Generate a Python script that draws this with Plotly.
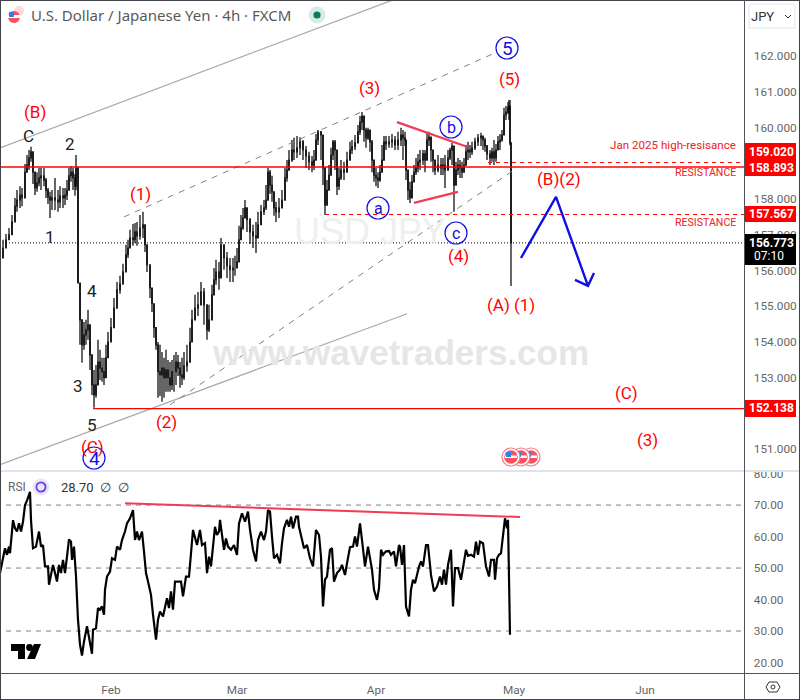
#USD/JPY 4h chart with wave counts and RSI panel
import plotly.graph_objs as go

W, H = 800, 700
PLOT_R = 744.5
TOP_B, RSI_T, RSI_B = 470, 472, 673

RED = "#ff0000"
BLUE = "#1010e6"
PINK = "#f23c55"
GREY = "#666666"

#Price bars, x is the bar position on the time scale
bar_x = [0,3,6,9,12,15,17,20,22,25,
         27,29,31,33,35,37,39,41,44,46,
         48,50,52,55,58,60,63,65,67,69,
         71,73,75,76,78,80,82,84,86,88,
         90,92,94,96,98,100,102,104,106,108,
         111,114,117,120,123,126,128,130,133,135,
         137,140,143,145,147,150,152,154,156,158,
         160,162,164,166,168,170,172,174,176,178,
         180,182,184,187,190,192,195,198,201,204,
         207,209,212,214,216,219,221,224,227,230,
         233,235,237,239,241,243,245,247,250,253,
         256,258,261,264,266,268,270,272,274,276,
         279,282,285,287,289,292,294,297,300,303,
         306,309,312,314,316,318,321,323,325,327,
         329,331,333,335,337,339,341,344,347,350,
         352,355,358,360,362,364,366,368,370,372,
         374,376,378,380,382,384,386,389,392,395,
         398,401,403,405,406,408,410,412,414,416,
         418,420,423,425,427,429,431,433,435,438,
         441,443,445,448,450,452,454,456,458,460,
         462,464,466,468,470,472,475,478,481,483,
         485,487,490,492,494,496,498,500,502,504,
         506,508,509,510,511]
price_close = [156.35,156.63,156.86,157.00,157.36,157.80,157.97,158.11,158.03,158.75,
               158.95,159.15,159.32,158.75,158.31,158.45,158.59,158.65,158.53,158.25,
               158.06,157.97,158.03,157.97,157.92,158.09,158.03,158.11,158.25,158.65,
               158.75,158.59,158.36,158.87,155.65,154.62,153.92,154.20,154.34,154.48,
               153.64,152.80,152.52,152.80,153.44,153.27,153.17,153.00,153.56,154.00,
               154.40,154.95,155.46,155.63,155.96,156.44,156.63,156.91,156.86,157.08,
               156.97,157.19,157.28,156.72,156.16,155.51,155.07,154.40,153.92,153.17,
               153.08,153.27,153.00,153.22,153.00,152.80,153.17,153.17,153.44,153.27,
               153.08,153.00,153.33,153.44,154.00,154.62,154.95,155.04,155.40,155.04,
               154.34,154.62,155.32,155.74,155.96,155.79,156.72,156.35,156.13,156.02,
               156.07,156.07,156.24,156.86,157.19,157.47,157.75,157.42,157.08,156.97,
               156.91,157.28,157.64,157.75,157.97,158.75,158.39,158.20,157.75,157.64,
               157.75,157.97,158.59,158.81,159.09,159.37,159.32,159.43,159.60,159.37,
               159.20,159.04,158.95,159.09,159.65,159.88,159.79,158.87,157.83,158.25,
               158.67,159.23,159.60,159.37,158.36,158.59,158.81,158.75,159.09,159.37,
               159.46,159.57,159.88,160.15,160.32,159.93,159.71,159.93,159.60,159.09,
               158.67,158.59,158.53,158.75,159.09,159.60,159.54,159.60,159.65,159.51,
               159.65,159.79,159.71,159.65,158.81,158.25,158.03,158.48,158.75,158.87,
               159.04,159.09,159.26,159.09,159.65,159.73,159.37,159.09,158.81,158.95,
               158.87,158.95,158.81,159.15,159.37,159.48,158.39,158.81,158.95,158.87,
               158.75,158.95,159.32,159.37,159.32,159.43,159.60,159.71,159.76,159.65,
               159.48,159.26,159.15,159.32,159.15,159.37,159.60,159.65,159.79,160.35,
               160.43,160.55,160.60,159.57,156.77]
price_high = [156.58,156.86,157.02,157.19,157.55,158.03,158.25,158.36,158.31,158.98,
              159.23,159.37,159.46,159.09,158.67,158.75,158.87,158.87,158.87,158.59,
              158.31,158.20,158.25,158.59,158.25,158.36,158.31,158.31,158.53,158.87,
              158.92,158.87,158.70,159.23,158.25,155.37,154.62,154.56,154.62,154.90,
              154.34,153.64,153.22,153.36,154.06,153.78,153.56,153.56,153.92,154.28,
              154.67,155.23,155.68,155.85,156.19,156.72,156.86,157.14,157.30,157.33,
              157.36,157.55,157.64,157.19,156.52,155.96,155.40,154.79,154.34,154.00,
              153.92,153.72,153.56,153.78,153.50,153.44,153.50,153.64,153.72,153.64,
              153.44,153.56,153.72,153.92,154.40,154.90,155.32,155.40,155.68,155.51,
              155.04,155.04,155.60,156.07,156.30,156.24,156.91,156.72,156.52,156.35,
              156.35,156.41,156.63,157.25,157.55,157.75,157.97,157.75,157.47,157.28,
              157.36,157.64,157.83,157.97,158.39,158.87,158.81,158.65,158.20,157.92,
              158.03,158.25,158.87,159.09,159.37,159.65,159.71,159.76,159.73,159.65,
              159.48,159.32,159.20,159.37,159.82,159.93,159.90,159.51,158.81,158.53,
              158.95,159.43,159.65,159.65,158.95,158.87,159.09,159.04,159.32,159.60,
              159.65,159.79,160.07,160.32,160.43,160.26,159.99,159.99,159.93,159.65,
              159.09,158.87,158.75,158.95,159.51,159.76,159.76,159.76,159.82,159.76,
              159.88,159.99,159.93,159.88,159.65,158.59,158.48,158.67,158.95,159.15,
              159.26,159.37,159.37,159.37,159.88,159.88,159.71,159.37,159.09,159.23,
              159.15,159.15,159.23,159.37,159.43,159.57,158.95,159.04,159.15,159.09,
              159.04,159.15,159.51,159.60,159.51,159.60,159.71,159.82,159.85,159.76,
              159.71,159.51,159.37,159.43,159.65,159.54,159.76,159.82,159.93,160.55,
              160.60,160.71,160.77,160.77,159.57]
price_low = [156.02,156.41,156.63,156.86,157.08,157.55,157.64,157.75,157.80,158.48,
             158.75,158.81,159.04,158.42,158.11,158.20,158.36,158.25,158.36,158.03,
             157.86,157.47,157.69,157.69,157.64,157.75,157.75,157.83,157.97,158.39,
             158.48,158.25,158.09,158.25,155.65,153.92,153.42,153.78,153.92,154.06,
             153.22,152.52,152.16,152.44,153.00,152.94,152.89,152.80,153.08,153.64,
             154.12,154.67,155.12,155.35,155.60,156.16,156.35,156.63,156.69,156.77,
             156.69,156.86,156.91,156.52,155.96,155.23,154.84,154.12,153.78,152.44,
             152.49,152.33,152.44,152.61,152.61,152.61,152.66,152.61,152.80,153.05,
             152.72,152.80,152.94,153.17,153.72,154.20,154.67,154.73,155.04,154.48,
             154.06,154.28,154.84,155.46,155.60,155.46,156.24,156.02,155.79,155.68,
             155.68,155.85,156.13,156.58,156.91,157.14,157.47,157.08,156.74,156.63,
             156.49,157.00,157.42,157.55,157.69,158.25,158.14,157.92,157.53,157.36,
             157.47,157.75,158.25,158.48,158.81,159.04,159.09,159.15,159.23,159.09,
             158.87,158.81,158.75,158.81,159.32,159.51,159.09,158.39,157.55,158.03,
             158.25,158.67,159.09,158.81,158.11,158.25,158.53,158.53,158.75,159.09,
             159.26,159.37,159.60,159.79,159.93,159.60,159.43,159.65,159.32,158.75,
             158.48,158.36,158.31,158.48,158.75,159.32,159.37,159.43,159.43,159.37,
             159.37,159.48,159.09,159.48,158.53,157.97,157.89,158.11,158.59,158.67,
             158.75,158.81,158.95,158.75,159.32,159.48,159.04,158.75,158.67,158.75,
             158.67,158.67,158.31,158.81,159.09,158.95,157.64,158.39,158.67,158.59,
             158.59,158.81,158.95,159.09,159.15,159.23,159.37,159.48,159.48,159.37,
             159.32,159.09,158.95,159.04,158.95,159.04,159.37,159.37,159.60,160.07,
             160.21,160.38,160.21,159.50,155.57]

#RSI line
rsi_x = [0,3,5,7,9,10,13,15,17,19,21,23,25,27,30,31,33,36,39,41,43,45,48,49,51,53,55,57,59,61,
         63,65,67,69,71,72,74,76,78,80,82,84,87,89,92,93,96,98,100,102,104,105,107,110,112,115,
         117,120,122,125,127,130,133,135,137,139,142,144,146,148,151,153,156,158,160,163,165,167,
         169,171,173,175,178,181,183,186,189,191,193,197,200,202,205,207,209,211,213,215,217,219,
         220,222,224,226,228,231,234,237,239,242,245,248,250,253,256,258,261,264,266,268,270,272,
         274,277,280,282,284,287,289,291,293,296,298,299,302,304,307,310,313,316,319,321,323,325,
         327,330,332,334,337,340,342,345,347,350,353,355,357,360,362,365,368,370,372,374,377,379,
         381,383,386,389,391,394,396,399,400,402,404,406,409,411,413,415,417,419,421,423,426,428,
         431,434,437,440,442,444,446,448,451,453,455,458,461,464,466,468,471,474,476,478,480,483,
         486,489,491,494,495,497,499,501,503,505,507,508,510]
rsi_val = [48.4,52.6,56.3,54.2,56.8,54.7,65.2,62.6,61.6,64.2,61.6,64.7,70.0,71.4,74.2,65.3,56.3,56.8,61.6,56.8,
           57.3,50.5,50.5,44.7,48.4,51.0,48.4,45.7,51.0,48.4,52.6,48.4,53.6,59.1,58.4,52.6,56.8,47.3,33.6,25.7,
           22.2,26.7,31.5,27.8,22.8,30.4,30.9,37.3,36.8,37.8,35.2,43.1,47.3,48.9,53.1,52.6,56.8,55.8,58.9,61.6,
           64.2,65.8,68.4,58.9,61.6,58.9,61.6,55.2,48.4,45.7,41.5,35.2,27.3,33.6,36.2,34.6,37.8,40.4,37.3,42.6,
           36.8,45.7,45.7,45.7,41.0,47.3,47.3,53.6,62.1,57.3,62.1,57.3,57.9,48.4,53.6,50.5,57.3,63.1,60.5,61.6,
           65.3,60.0,55.8,59.4,56.8,55.8,57.3,54.2,64.2,67.4,64.7,67.9,62.1,55.8,52.1,58.9,61.6,58.9,61.6,68.4,
           67.9,60.0,53.1,54.2,51.5,57.9,62.6,65.3,63.1,66.3,62.6,66.3,66.3,63.1,58.9,56.3,57.3,53.1,50.5,62.1,
           60.5,53.6,37.8,46.3,47.3,55.8,56.3,45.7,48.4,49.5,51.0,47.8,51.5,56.6,56.8,60.0,56.8,64.2,58.9,50.5,
           56.8,53.1,49.5,43.1,39.9,43.6,55.8,54.2,55.3,55.4,54.2,55.3,50.5,57.3,56.8,51.0,57.3,37.8,34.6,43.1,
           46.3,45.2,48.4,50.5,52.1,50.5,57.3,57.3,47.8,42.6,44.1,47.3,44.7,49.5,44.7,51.0,55.8,37.8,50.0,50.0,
           46.3,52.6,55.8,53.9,54.2,53.6,58.4,54.2,58.4,57.9,50.5,47.3,52.6,52.6,46.3,53.1,54.2,54.7,59.4,65.8,
           62.6,65.3,28.8]

#Drawn lines on the price panel
channel_up_x, channel_up_y = [124,497], [157.50,162.11]
channel_lo_x, channel_lo_y = [170,517], [152.24,158.87]
outer_up_x, outer_up_y = [0,393], [159.43,163.57]
outer_lo_x, outer_lo_y = [0,407], [150.57,154.79]
tri_up_x, tri_up_y = [397,467], [160.15,159.46]
tri_lo_x, tri_lo_y = [414,458], [157.89,158.20]
arrow_x = [521,556,588]
arrow_y = [156.35,158.06,155.57]
head_x = [575,588,594]
head_y = [155.74,155.57,155.93]
div_x, div_y = [125,520], [70.6,66.2]

#Price levels
levels = [158.893,159.020,157.567,152.138,156.773]
level_start = [0,488,325,93,0]
level_color = [RED,RED,RED,RED,"#000000"]
level_dash = ["solid","4px,4px","4px,4px","solid","1px,2px"]
level_width = [1.4,1,1,1.2,1]

#Wave labels, positions in window pixels
red_labels = ["(B)","(3)","(1)","(5)","(B)(2)","(4)","(A)","(1)","(2)","(C)","(C)","(3)"]
red_px = [35,369,140,510,559,458,498,524,166,92,626,647]
red_py = [112,88,194,79,179,256,305,305,422,447,393,440]
black_labels = ["C","2","1","4","3","5"]
black_px = [28,70,50,92,78,92]
black_py = [136,144,237,291,386,425]
circle_labels = ["5","a","b","c","4"]
circle_px = [507,378,451,456,94]
circle_py = [48,208,127,233,458]
circle_font = [19,16,16,16,19]
note_labels = ["Jan 2025 high-resisance","RESISTANCE","RESISTANCE"]
note_py = [145,172,223]
note_font = [11.6,10.6,10.6]

#Axis labels
month_pos = [111,237,376,514,645]
month_labels = ["Feb","Mar","Apr","May","Jun"]
price_ticks = [151,153,154,155,156,157,158,160,161,162]
rsi_ticks = [20,30,40,50,60,70,80]
rsi_levels = [70,50,30]

#Badges on the price scale
badge_text = ["159.020","158.893","157.567","152.138"]
badge_top = [143,160,206,400]
badge_bot = [160,176,222,417]


def paper_x(px):
    return px / W


def paper_y(py):
    return 1 - py / H


def line_trace(x, y, color, width, dash="solid", yaxis="y"):
    return go.Scatter(x=x, y=y, mode="lines", yaxis=yaxis, hoverinfo="skip",
                      line=dict(color=color, width=width, dash=dash))


def rect(x0, y0, x1, y1, fill, line="rgba(0,0,0,0)", width=0):
    return dict(type="rect", xref="paper", yref="paper", x0=paper_x(x0), x1=paper_x(x1),
                y0=paper_y(y0), y1=paper_y(y1), fillcolor=fill, line=dict(color=line, width=width))


def circle(cx, cy, r, fill="rgba(0,0,0,0)", line="rgba(0,0,0,0)", width=0):
    return dict(type="circle", xref="paper", yref="paper", x0=paper_x(cx - r), x1=paper_x(cx + r),
                y0=paper_y(cy - r), y1=paper_y(cy + r), fillcolor=fill, line=dict(color=line, width=width))


def poly(points, fill="rgba(0,0,0,0)", line="rgba(0,0,0,0)", width=0):
    path = "M " + " L ".join(f"{paper_x(a)} {paper_y(b)}" for a, b in points) + " Z"
    return dict(type="path", xref="paper", yref="paper", path=path, fillcolor=fill,
                line=dict(color=line, width=width))


def label(text, px, py, color, size, family="Roboto", anchor="center"):
    return dict(text=text, xref="paper", yref="paper", x=paper_x(px), y=paper_y(py), showarrow=False,
                xanchor=anchor, yanchor="middle", font=dict(color=color, size=size, family=family))


#open of a bar is the close before it
price_open = [price_close[0]] + price_close[:-1]

data = [
    line_trace(outer_up_x, outer_up_y, "#a9a9b0", 1.2),
    line_trace(outer_lo_x, outer_lo_y, "#a9a9b0", 1.2),
    line_trace(channel_up_x, channel_up_y, "#808080", 1, "6px,6px"),
    line_trace(channel_lo_x, channel_lo_y, "#808080", 1, "6px,6px"),
]
for lv, st, col, ds, wd in zip(levels, level_start, level_color, level_dash, level_width):
    data.append(line_trace([st, PLOT_R], [lv, lv], col, wd, ds))
data.append(go.Candlestick(x=bar_x, open=price_open, high=price_high, low=price_low, close=price_close,
                           whiskerwidth=0,
                           increasing=dict(line=dict(color="#000000", width=1.2), fillcolor="#000000"),
                           decreasing=dict(line=dict(color="#000000", width=1.2), fillcolor="#000000")))
data += [
    line_trace(tri_up_x, tri_up_y, PINK, 2.2),
    line_trace(tri_lo_x, tri_lo_y, PINK, 2.2),
    line_trace(arrow_x, arrow_y, BLUE, 2.4),
    line_trace(head_x, head_y, BLUE, 2.4),
]
for lv in rsi_levels:
    data.append(line_trace([6, PLOT_R], [lv, lv], "#808088", 1, "5px,5px", "y2"))
data.append(line_trace(rsi_x, rsi_val, "#000000", 2.2, yaxis="y2"))
data.append(line_trace(div_x, div_y, PINK, 2, yaxis="y2"))

shapes = [
    rect(0, TOP_B, W, RSI_T, "#e0e3eb"),
    rect(0, 0, 1, H, "#40434a"),
    rect(0, 0, W, 1, "#40434a"),
    rect(0, H - 1, W, H, "#40434a"),
    rect(W - 1, 0, W, H, "#40434a"),
    rect(PLOT_R - 0.5, 0, PLOT_R + 0.5, H, "#50535a"),
    rect(0, RSI_B, W, RSI_B + 1, "#50535a"),
    #title icons
    circle(19, 11, 5, "#fbd9dc"),
    circle(14, 17, 6, "#f7525f"),
    rect(8, 15, 20, 18, "#ffffff"),
    rect(9, 12, 14, 17, "#2f80ed"),
    circle(317, 15, 8.5, "#d5ebe6"),
    circle(317, 15, 3.6, "#0b7a63"),
    #JPY box
    dict(type="rect", xref="paper", yref="paper", x0=paper_x(749), x1=paper_x(795), y0=paper_y(4),
         y1=paper_y(28), fillcolor="#ffffff", line=dict(color="#e6e8ee", width=1)),
    poly([(785, 15), (788, 18), (791, 15), (788, 18)], line="#333333", width=1),
    #RSI icon
    circle(41, 487, 8.5, "#ebe6f7"),
    circle(41, 487, 4.6, line="#6a3de8", width=1.8),
    #logo
    poly([(11, 644), (25, 644), (25, 659), (18, 659), (18, 651), (11, 651)], "#000000"),
    circle(29.5, 647.5, 3.4, "#000000"),
    poly([(34, 644), (41, 644), (35, 659), (27, 659)], "#000000"),
    #settings hexagon
    poly([(766, 687), (769, 682), (777, 682), (780, 687), (777, 692), (769, 692)], line="#333333", width=1),
    circle(773, 687, 2, line="#333333", width=1),
]
#event icons, left one on top
for cx in [531, 521, 511]:
    shapes += [circle(cx, 457, 9, "#ffffff", "#f77c80", 1.2),
               circle(cx, 457, 6.8, "#f7525f"),
               rect(cx - 6, 455.5, cx + 6, 458, "#ffffff"),
               rect(cx - 5, 452, cx, 457, "#2f80ed")]
for top, bot in zip(badge_top, badge_bot):
    shapes.append(rect(745, top, 796, bot, RED))
shapes.append(rect(745, 234, 796, 265, "#000000"))
for cx, cy in zip(circle_px, circle_py):
    shapes.append(circle(cx, cy, 11, line=BLUE, width=1.2))

notes = [
    label("USD JPY", 370, 232, "#efefef", 36, "Liberation Sans"),
    label("<b>www.wavetraders.com</b>", 400, 352, "#e6e6e6", 35, "Liberation Sans"),
    label("U.S. Dollar / Japanese Yen · 4h · FXCM", 29, 15, "#5a5a5a", 15, "Noto Sans", anchor="left"),
    label("JPY", 762, 16, "#333333", 13),
    label("RSI", 17, 487, GREY, 12),
    label("28.70  ∅  ∅", 59, 487, "#333333", 13, anchor="left"),
    label("<b>156.773</b>", 771, 243, "#ffffff", 12),
    label("07:10", 752, 256, "#ffffff", 12, anchor="left"),
]
for t, top, bot in zip(badge_text, badge_top, badge_bot):
    notes.append(label("<b>" + t + "</b>", 771, (top + bot) / 2, "#ffffff", 12))
for t, x, y in zip(red_labels, red_px, red_py):
    notes.append(label(t, x, y, RED, 17))
for t, x, y in zip(black_labels, black_px, black_py):
    notes.append(label(t, x, y, "#222222", 17))
for t, x, y, s in zip(circle_labels, circle_px, circle_py, circle_font):
    notes.append(label(t, x, y, BLUE, s))
for t, y, s in zip(note_labels, note_py, note_font):
    notes.append(label(t, 738, y, "#ee2020", s, anchor="right"))

layout = go.Layout(width=W, height=H, autosize=False,
                   margin=dict(l=0, r=0, t=0, b=0),
                   paper_bgcolor="#ffffff", plot_bgcolor="#ffffff",
                   showlegend=False, hovermode=False,
                   font=dict(family="Roboto", size=11.8, color=GREY),
                   xaxis=dict(domain=[0, PLOT_R / W], range=[0, PLOT_R], anchor="y2", automargin=False,
                              showgrid=False, zeroline=False, rangeslider=dict(visible=False),
                              tickmode="array", tickvals=month_pos, ticktext=month_labels,
                              ticks="outside", ticklen=6, tickcolor="rgba(0,0,0,0)"),
                   yaxis=dict(domain=[paper_y(TOP_B), 1], range=[150.42, 163.566], side="right", automargin=False,
                              showgrid=False, zeroline=False, tickmode="array", tickvals=price_ticks,
                              tickformat=".3f", ticks="outside", ticklen=6, tickcolor="rgba(0,0,0,0)"),
                   yaxis2=dict(domain=[paper_y(RSI_B), paper_y(RSI_T)], range=[16.67, 80.5], side="right", automargin=False,
                               showgrid=False, zeroline=False, tickmode="array", tickvals=rsi_ticks,
                               tickformat=".2f", ticks="outside", ticklen=6, tickcolor="rgba(0,0,0,0)"),
                   shapes=shapes, annotations=notes)
fig = go.Figure(data=data, layout=layout)
#the page adds its own margin around the figure, pin it to the window corner
pin = ("document.body.style.margin='0';document.body.style.overflow='hidden';"
       "var g=document.getElementById('{plot_id}');g.style.position='fixed';g.style.left='0';g.style.top='0';")
fig.write_html("out.html", post_script=pin, config=dict(displayModeBar=False))
